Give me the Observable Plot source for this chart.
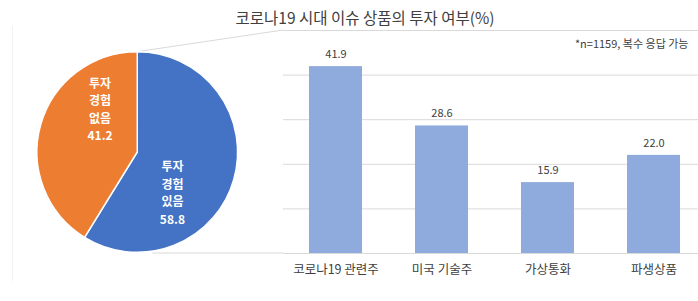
<!DOCTYPE html>
<html>
<head>
<meta charset="utf-8">
<script src="https://cdn.jsdelivr.net/npm/d3@7"></script>
<script src="https://cdn.jsdelivr.net/npm/@observablehq/plot@0.6"></script>
<style>
  html, body { margin: 0; padding: 0; background: #fff; }
  #wrap { width: 698px; height: 301px; position: relative; overflow: hidden; font-family: "Noto Sans CJK KR", "Noto Sans", sans-serif; }
  #title { height: 26px; line-height: 34px; font-size: 15.5px; color: #404040; text-align: center; padding-left: 32px; box-sizing: border-box; white-space: nowrap; }
  svg { display: block; }
</style>
</head>
<body>
<div id="wrap">
  <div id="title">코로나19 시대 이슈 상품의 투자 여부(%)</div>
  <div id="chart"></div>
</div>
<script>
const pieLabels = ["투자\n경험\n있음", "투자\n경험\n없음"];
const pieValues = [58.8, 41.2];
const pieColors = ["#4472C4", "#ED7D31"];
const categories = ["코로나19 관련주", "미국 기술주", "가상통화", "파생상품"];
const values = [41.9, 28.6, 15.9, 22.0];
const yTicks = [10, 20, 30, 40, 50];
const note = "*n=1159, 복수 응답 가능";

const barData = categories.map((c, i) => ({category: c, value: values[i]}));
const pieData = pieLabels.map((l, i) => ({label: l, value: pieValues[i], color: pieColors[i]}));

function pieMark(index, scales, vals, dims) {
  const g = d3.create("svg:g");
  const yTop = scales.y(50), yBase = scales.y(0);
  const r = (yBase - yTop) * 0.45;
  const cx = dims.marginLeft * 0.485;
  const cy = (yTop + yBase) / 2 + 10.5;
  // connector lines
  g.append("line").attr("x1", cx).attr("y1", cy - r).attr("x2", dims.marginLeft).attr("y2", yTop)
    .attr("stroke", "#d9d9d9").attr("stroke-width", 1);
  g.append("line").attr("x1", cx + 15).attr("y1", yBase).attr("x2", dims.marginLeft).attr("y2", yBase)
    .attr("stroke", "#d9d9d9").attr("stroke-width", 1);
  // faint frame line on the left
  g.append("line").attr("x1", 12.5).attr("y1", yTop - 10).attr("x2", 12.5).attr("y2", yBase + 28)
    .attr("stroke", "#f2f2f2").attr("stroke-width", 1);
  const arcs = d3.pie().sort(null).value(d => d.value)(pieData);
  const arc = d3.arc().innerRadius(0).outerRadius(r);
  const pg = g.append("g").attr("transform", `translate(${cx},${cy})`);
  pg.selectAll("path").data(arcs).join("path")
    .attr("d", arc).attr("fill", d => d.data.color)
    .attr("stroke", "#fff").attr("stroke-width", 1.5);
  // label placement (angle clockwise from 12 o'clock, radius fraction)
  const place = [[139.5, 0.54], [318.6, 0.56]];
  arcs.forEach((a, i) => {
    const ang = place[i][0] * Math.PI / 180, rr = place[i][1] * r;
    const lx = Math.sin(ang) * rr, ly = -Math.cos(ang) * rr;
    const lines = a.data.label.split("\n").concat([a.data.value.toFixed(1)]);
    const lh = 17.5;
    lines.forEach((ln, j) => {
      pg.append("text").attr("text-anchor", "middle")
        .attr("fill", "#fff").attr("font-size", 12).attr("font-weight", "bold")
        .attr("font-family", "'Noto Sans CJK KR', sans-serif")
        .attr("x", lx).attr("y", ly + (j - (lines.length - 1) / 2) * lh).attr("dy", "0.35em").text(ln);
    });
  });
  return g.node();
}

const plot = Plot.plot({
  width: 698,
  height: 275,
  marginLeft: 283,
  marginRight: 0,
  marginTop: 4,
  marginBottom: 48,
  style: {fontFamily: "'Noto Sans CJK KR', 'Noto Sans', sans-serif", color: "#404040", background: "transparent"},
  x: {domain: categories, range: [281, 708], paddingInner: 0.5, paddingOuter: 0.25},
  y: {domain: [0, 50]},
  marks: [
    Plot.gridY(yTicks, {stroke: "#d9d9d9", strokeOpacity: 1}),
    Plot.ruleY([0], {stroke: "#d9d9d9"}),
    Plot.barY(barData, {x: "category", y: "value", fill: "#8FAADC"}),
    Plot.text(barData, {x: "category", y: "value", text: d => d.value.toFixed(1), dy: -12, fontSize: 11, fill: "#404040"}),
    Plot.axisX({tickSize: 0, tickPadding: 12, fontSize: 12.5, label: null, fill: "#404040"}),
    Plot.axisY({ticks: [], label: null}),
    Plot.text([note], {frameAnchor: "top-right", dx: -10, dy: 10, fontSize: 11, fill: "#404040"}),
    pieMark
  ]
});
document.getElementById("chart").appendChild(plot);
</script>
</body>
</html>
